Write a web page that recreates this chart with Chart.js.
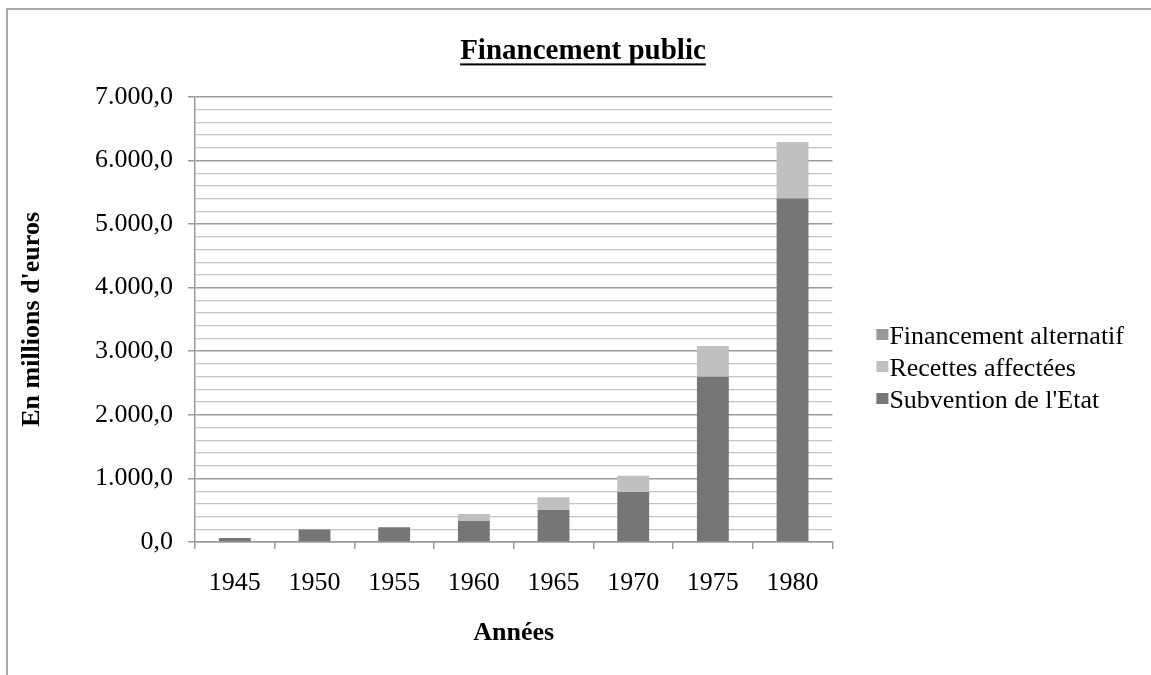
<!DOCTYPE html>
<html>
<head>
<meta charset="utf-8">
<script src="https://cdn.jsdelivr.net/npm/chart.js@4.4.1/dist/chart.umd.min.js"></script>
<style>
  html, body { margin: 0; padding: 0; background: #fff; overflow: hidden; }
  #frame { position: absolute; left: 6px; top: 8px; width: 1200px; height: 800px; border: 2px solid #a8a8a8; }
  #chart { position: absolute; left: 0; top: 0; }
</style>
</head>
<body>
<div id="frame"></div>
<canvas id="chart" width="1151" height="675"></canvas>
<script>
// data
const years = ['1945', '1950', '1955', '1960', '1965', '1970', '1975', '1980'];
const subvention = [63, 195, 232, 331, 504, 788, 2600, 5400];
const recettes = [0, 0, 0, 110, 201, 252, 480, 890];
const alternatif = [0, 0, 0, 0, 0, 0, 0, 0];

const serif = "'Liberation Serif', 'Times New Roman', serif";

function fmt(v){
  const s = v.toFixed(1).split('.');
  return s[0].replace(/\B(?=(\d{3})+(?!\d))/g, '.') + ',' + s[1];
}

// moves legend and title after layout, draws legend swatches, underlines title
const tweaks = {
  id: 'tweaks',
  afterLayout(chart){
    const lg = chart.legend;
    lg.left += 38; lg.right += 38;
    lg.top += 32; lg.bottom += 32;
    const tb = chart.titleBlock;
    tb.left += 35; tb.right += 35;
  },
  afterDraw(chart){
    const ctx = chart.ctx;
    ctx.save();

    // legend swatches, tight against the text
    const lg = chart.legend;
    lg.legendItems.forEach((item, i) => {
      const hb = lg.legendHitBoxes[i];
      if(!hb) return;
      ctx.fillStyle = item.fillStyle;
      ctx.fillRect(hb.left, hb.top + 4.5, 12, 11);
    });

    // underline under the title
    const tb = chart.titleBlock;
    const o = chart.options.plugins.title;
    ctx.font = 'bold ' + o.font.size + 'px ' + serif;
    const w = ctx.measureText(o.text).width;
    const cx = (tb.left + tb.right) / 2;
    const cy = tb.top + o.padding.top + o.font.size * 1.2 / 2;
    ctx.fillStyle = '#000';
    ctx.fillRect(cx - w / 2, cy + 12, w, 2);
    ctx.restore();
  }
};

const ctx = document.getElementById('chart').getContext('2d');
new Chart(ctx, {
  type: 'bar',
  data: {
    labels: years,
    datasets: [
      { label: "Subvention de l'Etat", data: subvention, backgroundColor: '#767676' },
      { label: 'Recettes affectées', data: recettes, backgroundColor: '#c0c0c0' },
      { label: 'Financement alternatif', data: alternatif, backgroundColor: '#999999' }
    ]
  },
  options: {
    responsive: false,
    animation: false,
    layout: { padding: { left: 0, right: 55, top: 0, bottom: 0 } },
    datasets: { bar: { barPercentage: 0.4, categoryPercentage: 1, borderWidth: 0 } },
    plugins: {
      title: {
        display: true,
        text: 'Financement public',
        color: '#000',
        font: { family: serif, size: 29, weight: 'bold' },
        padding: { top: 34, bottom: 28 }
      },
      legend: {
        position: 'right',
        reverse: true,
        labels: {
          color: '#000',
          font: { family: serif, size: 26 },
          boxWidth: 0,
          boxHeight: 11,
          padding: 6
        }
      },
      tooltip: { enabled: false }
    },
    scales: {
      x: {
        stacked: true,
        afterFit(scale){ scale.height = 133; },
        grid: { offset: true, drawOnChartArea: false, drawTicks: true, tickLength: 7, color: '#9a9a9a', lineWidth: 1.5 },
        border: { color: '#9a9a9a', width: 1.5 },
        ticks: { color: '#000', font: { family: serif, size: 26 }, padding: 19 },
        title: {
          display: true,
          text: 'Années',
          color: '#000',
          font: { family: serif, size: 26, weight: 'bold' },
          padding: { top: 0, bottom: 26 }
        }
      },
      y: {
        stacked: true,
        min: 0,
        max: 7000,
        afterFit(scale){ scale.width = 195; },
        grid: {
          color: c => (c.tick && c.tick.value % 1000 === 0) ? '#9a9a9a' : '#c4c4c4',
          lineWidth: c => (c.tick && c.tick.value % 1000 === 0) ? 1.5 : 1.2,
          tickColor: c => (c.tick && c.tick.value % 1000 === 0) ? '#9a9a9a' : 'rgba(0,0,0,0)',
          tickLength: 7
        },
        border: { color: '#9a9a9a', width: 1.5 },
        ticks: {
          stepSize: 200,
          autoSkip: false,
          color: '#000',
          font: { family: serif, size: 26 },
          padding: 15,
          callback: v => v % 1000 === 0 ? fmt(v) : ''
        },
        title: {
          display: true,
          text: "En millions d'euros",
          color: '#000',
          font: { family: serif, size: 26, weight: 'bold' },
          padding: { top: 17, bottom: 0 }
        }
      }
    }
  },
  plugins: [tweaks]
});
</script>
</body>
</html>
